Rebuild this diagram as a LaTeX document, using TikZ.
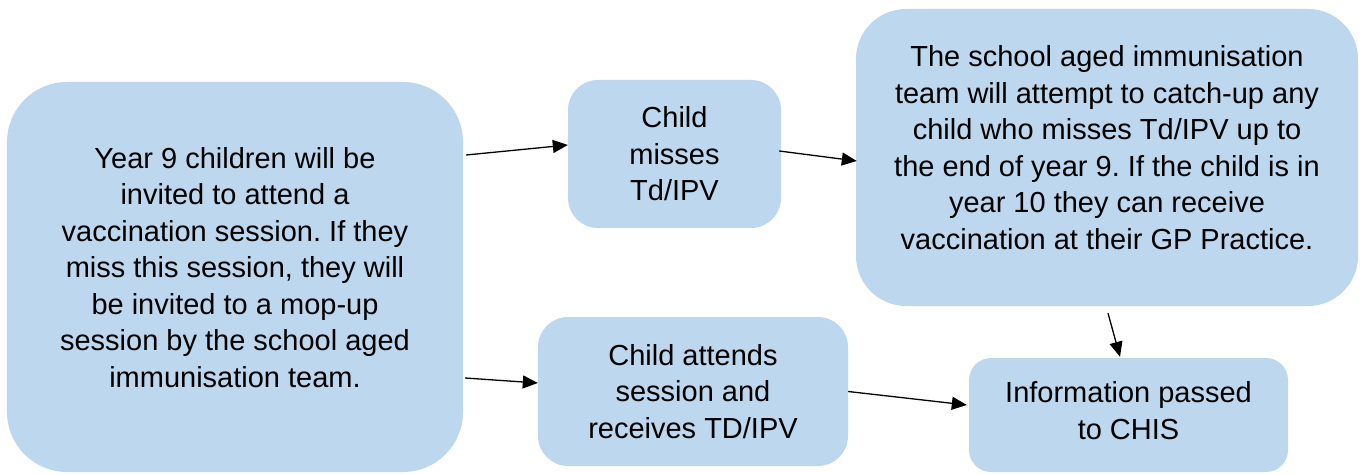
\documentclass[tikz,border=0pt]{standalone}
\usepackage{fontspec}
\setmainfont{Liberation Sans}
\usetikzlibrary{arrows.meta}
\definecolor{boxfill}{RGB}{189,215,238}
\frenchspacing
\begin{document}
\begin{tikzpicture}[x=1bp,y=-1bp,
  box/.style={fill=boxfill, draw=none, align=center, inner sep=0pt,
    font=\fontsize{29bp}{36.5bp}\selectfont},
  boxtext/.style={align=center, inner sep=0pt,
    font=\fontsize{29bp}{36.5bp}\selectfont},
  conn/.style={line width=1.3bp, -{Triangle[length=15bp,width=13bp]}}]
\useasboundingbox (0,0) rectangle (1362,474);
\node[box, minimum width=456bp, minimum height=390bp, rounded corners=60bp] (A) at (235,277) {};
\node[boxtext] (Atext) at (235,267.5)
  {Year 9 children will be\\invited to attend a\\vaccination session. If they\\miss this session, they will\\be invited to a mop-up\\session by the school aged\\immunisation team.};
\node[box, minimum width=213bp, minimum height=148bp, rounded corners=30bp] (B) at (674.5,154)
  {Child\\misses\\Td/IPV};
\node[box, minimum width=502bp, minimum height=297bp, rounded corners=50bp] (C) at (1107,157.5) {};
\node[boxtext] (Ctext) at (1107,147.5)
  {The school aged immunisation\\team will attempt to catch-up any\\child who misses Td/IPV up to\\the end of year 9. If the child is in\\year 10 they can receive\\vaccination at their GP Practice.};
\node[box, minimum width=310bp, minimum height=149bp, rounded corners=30bp] (D) at (693,391.5)
  {Child attends\\session and\\receives TD/IPV};
\node[box, minimum width=319bp, minimum height=114bp, rounded corners=22bp] (E) at (1128.5,415) {};
\node[boxtext] (Etext) at (1128.5,410.5) {Information passed\\to CHIS};
\draw[conn] ([xshift=3bp,yshift=122bp]A.east) -- ([yshift=9bp]B.west);
\draw[conn] ([xshift=-2bp,yshift=3bp]B.east) -- ([xshift=1bp,yshift=-3.5bp]C.west);
\draw[conn] ([xshift=2bp,yshift=-101bp]A.east) -- ([yshift=8.5bp]D.west);
\draw[conn] (D.east) -- ([xshift=-2bp,yshift=10bp]E.west);
\draw[conn] ([xshift=1bp,yshift=-7bp]C.south) -- ([xshift=-8.5bp,yshift=1bp]E.north);
\end{tikzpicture}
\end{document}
